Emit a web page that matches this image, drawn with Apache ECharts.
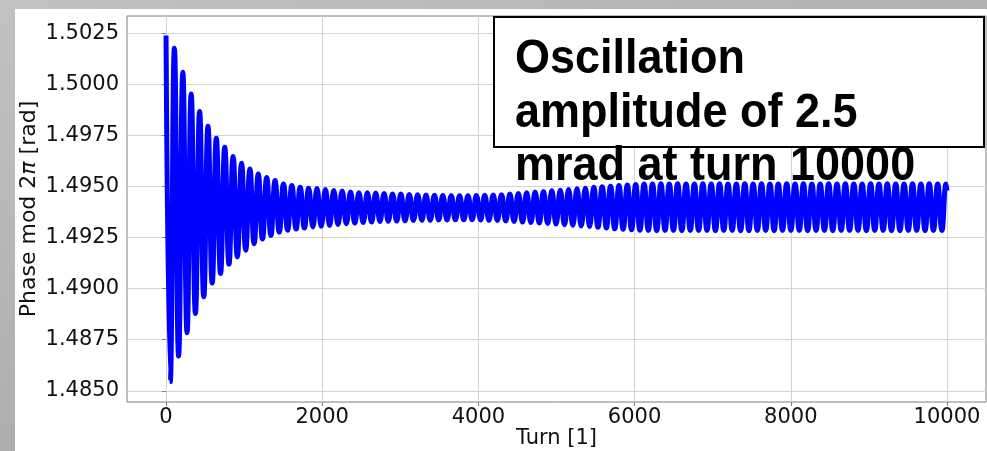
<!DOCTYPE html>
<html>
<head>
<meta charset="utf-8">
<script src="https://cdn.jsdelivr.net/npm/echarts@6/dist/echarts.min.js"></script>
<style>
  html, body { margin: 0; padding: 0; }
  body { width: 987px; height: 451px; position: relative; overflow: hidden;
         background: linear-gradient(160deg, #c2c2c2 0%, #b0b0b0 50%, #9c9c9c 100%); }
  #paper { position: absolute; left: 15px; top: 9px; width: 972px; height: 442px; background: #ffffff; }
  #chart { position: absolute; left: 0; top: 0; width: 987px; height: 451px; }
</style>
</head>
<body>
<div id="paper"></div>
<div id="chart"></div>
<script>
// Turn ticks and phase ticks
const xTicks = [0, 2000, 4000, 6000, 8000, 10000];
const yTicks = [1.4850, 1.4875, 1.4900, 1.4925, 1.4950, 1.4975, 1.5000, 1.5025];

// Turns of the oscillation maxima
const peakTurns = [0,107,215,322,430,537,644,752,859,967,
  1074,1181,1289,1396,1504,1611,1718,1826,1933,2041,
  2148,2255,2363,2470,2578,2685,2792,2900,3007,3115,
  3222,3329,3437,3544,3652,3759,3866,3974,4081,4189,
  4296,4403,4511,4618,4726,4833,4940,5048,5155,5263,
  5370,5477,5585,5692,5800,5907,6014,6122,6229,6337,
  6444,6551,6659,6766,6874,6981,7088,7196,7303,7411,
  7518,7625,7733,7840,7948,8055,8162,8270,8377,8485,
  8592,8699,8807,8914,9022,9129,9236,9344,9451,9559,
  9666,9773,9881,9988];
// Phase at the maxima [rad]
const peakPhase = [1.50240,1.50177,1.50059,1.49953,1.49868,1.49795,1.49736,1.49692,1.49647,1.49614,
  1.49586,1.49561,1.49544,1.49529,1.49513,1.49505,1.49497,1.49492,1.49490,1.49486,
  1.49481,1.49478,1.49473,1.49470,1.49469,1.49468,1.49466,1.49464,1.49463,1.49461,
  1.49460,1.49458,1.49457,1.49456,1.49455,1.49455,1.49455,1.49456,1.49457,1.49458,
  1.49460,1.49463,1.49466,1.49469,1.49473,1.49476,1.49479,1.49482,1.49486,1.49489,
  1.49492,1.49496,1.49499,1.49502,1.49505,1.49508,1.49510,1.49512,
  1.49513,1.49514,1.49513,1.49514,1.49513,1.49513,
  1.49514,1.49513,1.49514,1.49513,1.49513,1.49514,
  1.49513,1.49514,1.49513,1.49513,1.49514,1.49513,
  1.49514,1.49513,1.49513,1.49514,1.49513,1.49514,
  1.49513,1.49513,1.49514,1.49513,1.49514,1.49513,
  1.49513,1.49514,1.49513,1.49514,1.49513,1.49513];

// Turns of the oscillation minima
const troughTurns = [54,161,269,376,483,591,698,806,913,1020,
  1128,1235,1343,1450,1557,1665,1772,1880,1987,2094,
  2202,2309,2417,2524,2631,2739,2846,2954,3061,3168,
  3276,3383,3491,3598,3705,3813,3920,4028,4135,4242,
  4350,4457,4565,4672,4779,4887,4994,5102,5209,5316,
  5424,5531,5639,5746,5853,5961,6068,6176,6283,6390,
  6498,6605,6713,6820,6927,7035,7142,7250,7357,7464,
  7572,7679,7787,7894,8001,8109,8216,8324,8431,8538,
  8646,8753,8861,8968,9075,9183,9290,9398,9505,9612,
  9720,9827,9935];
// Phase at the minima [rad]
const troughPhase = [1.48545,1.48670,1.48784,1.48878,1.48960,1.49027,1.49074,1.49120,1.49155,1.49188,
  1.49220,1.49243,1.49261,1.49277,1.49286,1.49292,1.49297,1.49302,1.49305,1.49310,
  1.49314,1.49318,1.49321,1.49324,1.49326,1.49329,1.49330,1.49331,1.49332,1.49334,
  1.49335,1.49335,1.49336,1.49336,1.49337,1.49337,1.49337,1.49336,1.49335,1.49334,
  1.49331,1.49329,1.49326,1.49324,1.49321,1.49319,1.49316,1.49313,1.49310,1.49307,
  1.49304,1.49301,1.49297,1.49293,1.49291,1.49288,1.49286,
  1.49285,1.49284,1.49285,1.49285,1.49284,1.49285,
  1.49285,1.49285,1.49284,1.49285,1.49285,1.49284,
  1.49284,1.49285,1.49285,1.49284,1.49285,1.49285,
  1.49285,1.49284,1.49285,1.49285,1.49284,1.49285,
  1.49285,1.49285,1.49284,1.49285,1.49285,1.49284,
  1.49284,1.49285,1.49285,1.49284,1.49285,1.49285];

// Last sample
const endTurn = [10000];
const endPhase = [1.4948];

const pts = [];
peakTurns.forEach((t, i) => pts.push([t, peakPhase[i]]));
troughTurns.forEach((t, i) => pts.push([t, troughPhase[i]]));
endTurn.forEach((t, i) => pts.push([t, endPhase[i]]));
pts.sort((a, b) => a[0] - b[0]);

const FONT = '"DejaVu Sans", sans-serif';
const chart = echarts.init(document.getElementById('chart'), null, { renderer: 'canvas' });
chart.setOption({
  animation: false,
  backgroundColor: 'transparent',
  grid: { left: 127, right: 1, top: 16, bottom: 49, show: true, outerBoundsMode: 'none',
          containLabel: false,
          borderColor: '#7f7f7f', borderWidth: 1, backgroundColor: 'transparent' },
  xAxis: {
    type: 'value', min: -500, max: 10500,
    name: 'Turn [1]', nameLocation: 'middle', nameGap: 26, nameMoveOverlap: false,
    nameTextStyle: { fontFamily: FONT, fontSize: 21, color: '#111' },
    axisLine: { show: false },
    axisTick: { show: true, length: 4, customValues: xTicks, lineStyle: { color: '#7f7f7f' } },
    axisLabel: { customValues: xTicks, margin: 5, fontFamily: FONT, fontSize: 21, color: '#111',
                 formatter: v => String(v) },
    splitLine: { show: true, lineStyle: { color: '#d3d3d3', width: 1 } }
  },
  yAxis: {
    type: 'value', min: 1.48445, max: 1.50335,
    name: 'Phase mod 2{i|π} [rad]', nameLocation: 'middle', nameGap: 98, nameRotate: 90,
    nameMoveOverlap: false,
    nameTextStyle: { fontFamily: FONT, fontSize: 22, color: '#111', verticalAlign: 'middle',
                     rich: { i: { fontFamily: FONT, fontSize: 22, fontStyle: 'italic', color: '#111' } } },
    axisLine: { show: false },
    axisTick: { show: true, length: 4, customValues: yTicks, lineStyle: { color: '#7f7f7f' } },
    axisLabel: { customValues: yTicks, margin: 8, fontFamily: FONT, fontSize: 21, color: '#111',
                 formatter: v => v.toFixed(4) },
    splitLine: { show: true, lineStyle: { color: '#d3d3d3', width: 1 } }
  },
  series: [{
    type: 'line', data: pts, showSymbol: false, smooth: 0.5,
    lineStyle: { color: '#0000ff', width: 5 }, clip: true
  }],
  graphic: [
    { type: 'rect', shape: { x: 494, y: 17, width: 490, height: 130 },
      style: { fill: '#ffffff', stroke: '#000000', lineWidth: 2 }, z: 100 },
    { type: 'text', x: 515, y: 33, scaleY: 1.07, z: 101,
      style: { text: 'Oscillation\namplitude of 2.5\nmrad at turn 10000',
               font: 'bold 45px "Liberation Sans", Arial, sans-serif', fill: '#000000', lineHeight: 50 } }
  ]
});
</script>
</body>
</html>
